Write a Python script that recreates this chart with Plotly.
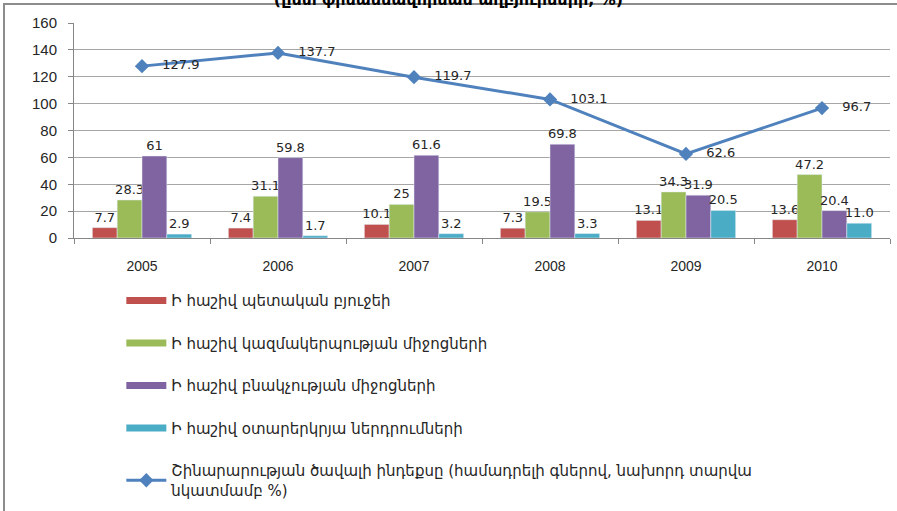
import plotly.graph_objects as go

years = ["2005", "2006", "2007", "2008", "2009", "2010"]
budget = [7.7, 7.4, 10.1, 7.3, 13.1, 13.6]
budget_lbl = ["7.7", "7.4", "10.1", "7.3", "13.1", "13.6"]
org = [28.3, 31.1, 25, 19.5, 34.3, 47.2]
org_lbl = ["28.3", "31.1", "25", "19.5", "34.3", "47.2"]
pop = [61, 59.8, 61.6, 69.8, 31.9, 20.4]
pop_lbl = ["61", "59.8", "61.6", "69.8", "31.9", "20.4"]
foreign = [2.9, 1.7, 3.2, 3.3, 20.5, 11.0]
foreign_lbl = ["2.9", "1.7", "3.2", "3.3", "20.5", "11.0"]
index = [127.9, 137.7, 119.7, 103.1, 62.6, 96.7]
index_lbl = ["127.9", "137.7", "119.7", "103.1", "62.6", "96.7"]

names = [
    "Ի հաշիվ պետական բյուջեի",
    "Ի հաշիվ կազմակերպության միջոցների",
    "Ի հաշիվ բնակչության միջոցների",
    "Ի հաշիվ օտարերկրյա ներդրումների",
    "Շինարարության ծավալի ինդեքսը (համադրելի գներով, նախորդ տարվա<br>նկատմամբ %)",
]
colors = ["#C0504D", "#9BBB59", "#8064A2", "#4BACC6"]

LBL_FONT = dict(family="DejaVu Sans", size=13, color="#262626")
ARM_FONT = "DejaVu Sans"

fig = go.Figure()
for i, (vals, lbls) in enumerate([(budget, budget_lbl), (org, org_lbl), (pop, pop_lbl), (foreign, foreign_lbl)]):
    fig.add_trace(go.Bar(
        x=years, y=vals, name=names[i], marker=dict(color=colors[i]),
        text=lbls, textposition="outside", textfont=LBL_FONT,
        constraintext="none", cliponaxis=False, showlegend=False,
    ))
    # legend entry drawn as a wide thick bar-like line
    fig.add_trace(go.Scatter(
        x=[None], y=[None], mode="lines", name=names[i],
        line=dict(color=colors[i], width=7), legendgroup=str(i),
    ))

fig.add_trace(go.Scatter(
    x=years, y=index, name=names[4], mode="lines+markers+text",
    line=dict(color="#4F81BD", width=3),
    marker=dict(symbol="diamond", size=11, color="#4F81BD"),
    text=index_lbl, texttemplate="   %{text}", textposition="middle right",
    textfont=LBL_FONT, cliponaxis=False, legendgroup="4",
))

fig.update_layout(
    width=897, height=511,
    margin=dict(l=74, r=7, t=23, b=273, autoexpand=False),
    paper_bgcolor="white", plot_bgcolor="white",
    barmode="group", bargap=0.27, bargroupgap=0,
    title=dict(
        text="<b>(ըստ ֆինանսավորման աղբյուրների, %)</b>",
        x=0.5, xanchor="center", y=0.99, yanchor="bottom", yref="container",
        font=dict(family=ARM_FONT, size=16, color="black"),
    ),
    showlegend=True,
    legend=dict(
        x=0.058, xanchor="left", y=-0.215, yanchor="top",
        orientation="v", tracegroupgap=20,
        font=dict(family=ARM_FONT, size=15, color="#262626"),
        itemwidth=40, bgcolor="rgba(0,0,0,0)",
    ),
    xaxis=dict(
        type="category", showgrid=False, showline=True, linecolor="#868686",
        ticks="outside", tickson="boundaries", ticklen=5, tickcolor="#868686",
        tickfont=dict(family="Liberation Sans", size=14, color="#262626"),
        range=[-0.5, 5.5], ticklabelstandoff=15,
    ),
    yaxis=dict(
        range=[0, 160], dtick=20, showgrid=True, gridcolor="#A6A6A6", gridwidth=1,
        showline=True, linecolor="#868686", ticks="outside", ticklen=5,
        tickcolor="#868686", zeroline=False, ticklabelstandoff=8,
        tickfont=dict(family="Liberation Sans", size=15, color="#262626"),
    ),
    shapes=[dict(
        type="rect", xref="paper", yref="paper",
        x0=(4 - 74) / 816, x1=(905 - 74) / 816,
        y0=(238 - 520) / 215, y1=(238 - 4) / 215,
        line=dict(color="#8C8C8C", width=2), fillcolor="rgba(0,0,0,0)", layer="below",
    )],
)

fig.write_html(
    "out.html",
    config={"displayModeBar": False},
    post_script="document.body.style.margin='0';document.body.style.padding='0';",
)
